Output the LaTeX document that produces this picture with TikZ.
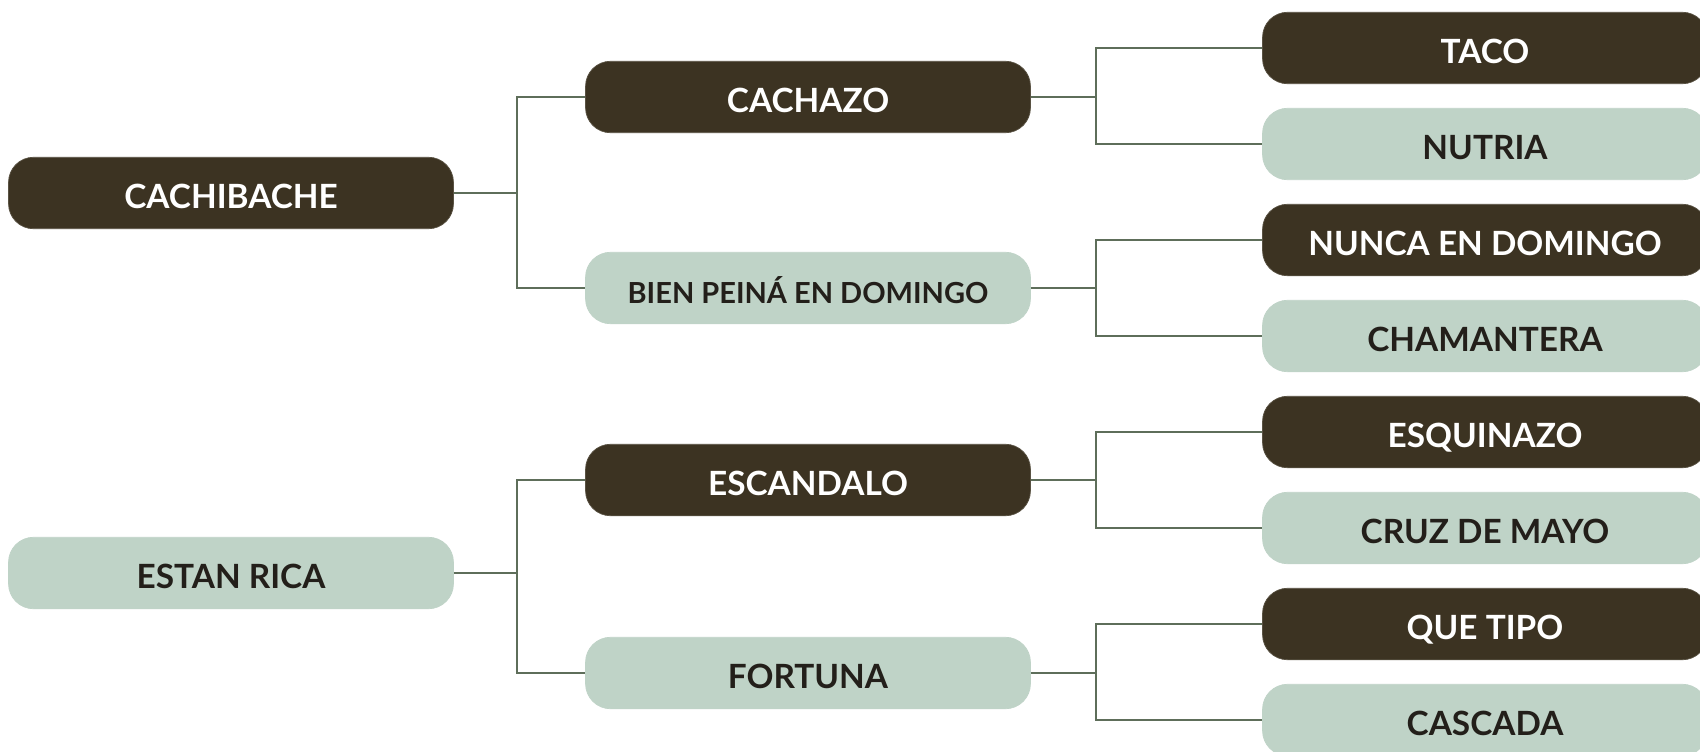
\documentclass[tikz,border=0pt]{standalone}
\usepackage{fontspec}
\setmainfont{Lato}
\usepackage{xcolor}
\usepackage{tikz}

\definecolor{bark}{HTML}{3C3322}
\definecolor{sage}{HTML}{BFD3C7}
\definecolor{twig}{HTML}{5E6E5A}
\definecolor{ink}{HTML}{231F1A}

\tikzset{
  box/.style={rounded corners=0.5cm, minimum width=8.9cm, minimum height=1.43cm,
    font=\fontsize{19}{22}\selectfont\bfseries, inner sep=0pt,
    text height=0.6cm, text depth=0cm},
  darkbox/.style={box, fill=bark, draw=bark!85!white, text=white},
  lightbox/.style={box, fill=sage, draw=sage, text=ink},
  link/.style={draw=twig, line width=0.9pt},
}

\begin{document}
\begin{tikzpicture}[x=0.02cm,y=-0.02cm]
  \useasboundingbox (0,0) rectangle (1700,751);
  % first column
  \node[darkbox]  (cachibache) at (231,193) {CACHIBACHE};
  \node[lightbox] (estanrica)  at (231,573) {ESTAN RICA};
  % second column
  \node[darkbox]  (cachazo)   at (808,97)  {CACHAZO};
  \node[lightbox, font=\fontsize{16.5}{20}\selectfont\bfseries] (bienpeina) at (808,288) {BIEN PEINÁ EN DOMINGO};
  \node[darkbox]  (escandalo) at (808,480) {ESCANDALO};
  \node[lightbox] (fortuna)   at (808,673) {FORTUNA};
  % third column
  \node[darkbox]  (taco)       at (1485,48)  {TACO};
  \node[lightbox] (nutria)     at (1485,144) {NUTRIA};
  \node[darkbox]  (nunca)      at (1485,240) {NUNCA EN DOMINGO};
  \node[lightbox] (chamantera) at (1485,336) {CHAMANTERA};
  \node[darkbox]  (esquinazo)  at (1485,432) {ESQUINAZO};
  \node[lightbox] (cruz)       at (1485,528) {CRUZ DE MAYO};
  \node[darkbox]  (quetipo)    at (1485,624) {QUE TIPO};
  \node[lightbox] (cascada)    at (1485,720) {CASCADA};

  \draw[link] (cachibache.east) -- ++(63,0) |- (cachazo.west);
  \draw[link] (cachibache.east) -- ++(63,0) |- (bienpeina.west);
  \draw[link] (estanrica.east) -- ++(63,0) |- (escandalo.west);
  \draw[link] (estanrica.east) -- ++(63,0) |- (fortuna.west);

  \draw[link] (cachazo.east) -- ++(65,0) |- (taco.west);
  \draw[link] (cachazo.east) -- ++(65,0) |- (nutria.west);
  \draw[link] (bienpeina.east) -- ++(65,0) |- (nunca.west);
  \draw[link] (bienpeina.east) -- ++(65,0) |- (chamantera.west);
  \draw[link] (escandalo.east) -- ++(65,0) |- (esquinazo.west);
  \draw[link] (escandalo.east) -- ++(65,0) |- (cruz.west);
  \draw[link] (fortuna.east) -- ++(65,0) |- (quetipo.west);
  \draw[link] (fortuna.east) -- ++(65,0) |- (cascada.west);
\end{tikzpicture}
\end{document}
